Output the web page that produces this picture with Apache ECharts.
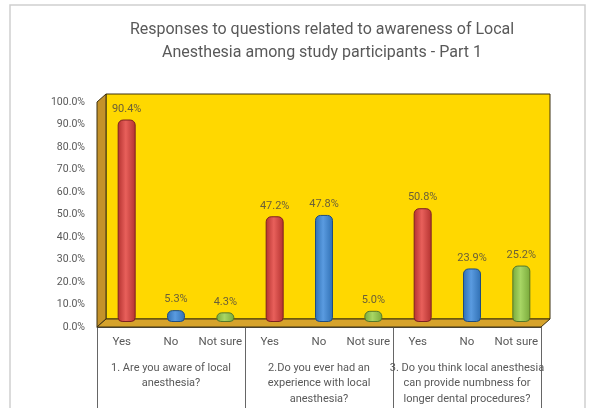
<!DOCTYPE html>
<html>
<head>
<meta charset="utf-8">
<script src="https://cdn.jsdelivr.net/npm/echarts@6/dist/echarts.min.js"></script>
<style>
  html, body { margin: 0; padding: 0; background: #fff; }
  #chart { width: 595px; height: 408px; }
</style>
</head>
<body>
<div id="chart"></div>
<script>
// data
const questions = [
  '1. Are you aware of local\nanesthesia?',
  '2.Do you ever had an\nexperience with local\nanesthesia?',
  '3. Do you think local anesthesia\ncan provide numbness for\nlonger dental procedures?'
];
const responses = ['Yes', 'No', 'Not sure'];
const yesValues = [90.4, 47.2, 50.8];
const noValues = [5.3, 47.8, 23.9];
const notSureValues = [4.3, 5.0, 25.2];

// colours per response (Yes / No / Not sure)
const barColors = [
  ['#b3312f', '#e8605b', '#b3312f'],
  ['#2f6fb3', '#5a9be0', '#2f6fb3'],
  ['#79a93a', '#a8d665', '#79a93a']
];
const barBorders = ['#7d2220', '#1f4d80', '#55782a'];
const labelColor = '#595959';

// layout of the 3d box (front plane + depth)
const front = { left: 97, right: 541, top: 102, bottom: 327 };
const depth = { dx: 9, dy: 8 };
const back = {
  left: front.left + depth.dx, right: front.right + depth.dx,
  top: front.top - depth.dy, bottom: front.bottom - depth.dy
};
const W = 595, H = 408;

// build flat category list and bar items
const categories = [];
const barData = [];
const valueSets = [yesValues, noValues, notSureValues];
questions.forEach(function (q, qi) {
  responses.forEach(function (r, ri) {
    categories.push(r);
    const c = barColors[ri];
    barData.push({
      value: valueSets[ri][qi],
      itemStyle: {
        color: new echarts.graphic.LinearGradient(0, 0, 1, 0, [
          { offset: 0, color: c[0] },
          { offset: 0.45, color: c[1] },
          { offset: 1, color: c[2] }
        ]),
        borderColor: barBorders[ri],
        borderWidth: 1,
        borderRadius: [5, 5, 4, 4]
      }
    });
  });
});

const myChart = echarts.init(document.getElementById('chart'));

myChart.setOption({
  backgroundColor: '#fff',
  textStyle: { fontFamily: 'Roboto' },
  title: {
    text: 'Responses to questions related to awareness of Local\nAnesthesia among study participants - Part 1',
    left: 317,
    top: 13,
    textAlign: 'center',
    textStyle: {
      color: labelColor,
      fontSize: 16,
      fontWeight: 'normal',
      lineHeight: 23,
      fontFamily: 'Roboto'
    }
  },
  graphic: [
    {
      type: 'rect', z: 0, silent: true,
      shape: { x: 10, y: 5, width: 575, height: 420 },
      style: { fill: 'none', stroke: '#cfcfcf', lineWidth: 1.5 }
    },
    {
      type: 'polygon', z: 1, silent: true,
      shape: { points: [
        [front.left, front.top], [back.left, back.top],
        [back.left, back.bottom], [front.left, front.bottom]
      ] },
      style: { fill: '#c4922a', stroke: '#3d3010', lineWidth: 1 }
    },
    {
      type: 'polygon', z: 1, silent: true,
      shape: { points: [
        [front.left, front.bottom], [back.left, back.bottom],
        [back.right, back.bottom], [front.right, front.bottom]
      ] },
      style: { fill: '#d6a32c', stroke: '#3d3010', lineWidth: 1 }
    }
  ],
  grid: [
    { // back wall
      left: back.left, right: W - back.right, top: back.top, bottom: H - back.bottom,
      show: true, backgroundColor: '#ffd800', borderColor: '#3d3010', borderWidth: 1,
      outerBoundsMode: 'none'
    },
    { // bars, mid depth
      left: front.left + depth.dx / 2 + 0.5, right: W - front.right - depth.dx / 2 - 0.5,
      top: 98, bottom: H - 322,
      outerBoundsMode: 'none'
    },
    { // front axes
      left: front.left, right: W - front.right, top: front.top, bottom: H - front.bottom,
      outerBoundsMode: 'none'
    }
  ],
  xAxis: [
    { gridIndex: 0, type: 'category', data: categories, show: false },
    { gridIndex: 1, type: 'category', data: categories, show: false },
    {
      gridIndex: 2, type: 'category', data: categories, position: 'bottom',
      axisLine: { show: true, lineStyle: { color: '#555' } },
      axisTick: {
        show: true,
        interval: function (i) { return i % responses.length === 0; },
        length: H - front.bottom,
        lineStyle: { color: '#666', width: 1 }
      },
      axisLabel: { interval: 0, margin: 9, fontSize: 11.5, color: labelColor }
    },
    {
      gridIndex: 2, type: 'category', data: questions, position: 'bottom',
      axisLine: { show: false }, axisTick: { show: false },
      axisLabel: { interval: 0, margin: 33, fontSize: 11, lineHeight: 15.5, color: labelColor }
    }
  ],
  yAxis: [
    { gridIndex: 0, type: 'value', show: false },
    { gridIndex: 1, type: 'value', min: 0, max: 100, show: false },
    {
      gridIndex: 2, type: 'value', min: 0, max: 100, interval: 10,
      axisLine: { show: false }, axisTick: { show: false }, splitLine: { show: false },
      axisLabel: {
        margin: 12, fontSize: 10.5, color: labelColor,
        formatter: function (v) { return v.toFixed(1) + '%'; }
      }
    }
  ],
  series: [{
    type: 'bar',
    xAxisIndex: 1,
    yAxisIndex: 1,
    barWidth: 18,
    z: 3,
    data: barData,
    label: {
      show: true,
      position: 'top',
      distance: 5,
      fontSize: 11,
      color: '#6b6038',
      formatter: function (p) { return p.value.toFixed(1) + '%'; }
    }
  }]
});
</script>
</body>
</html>
